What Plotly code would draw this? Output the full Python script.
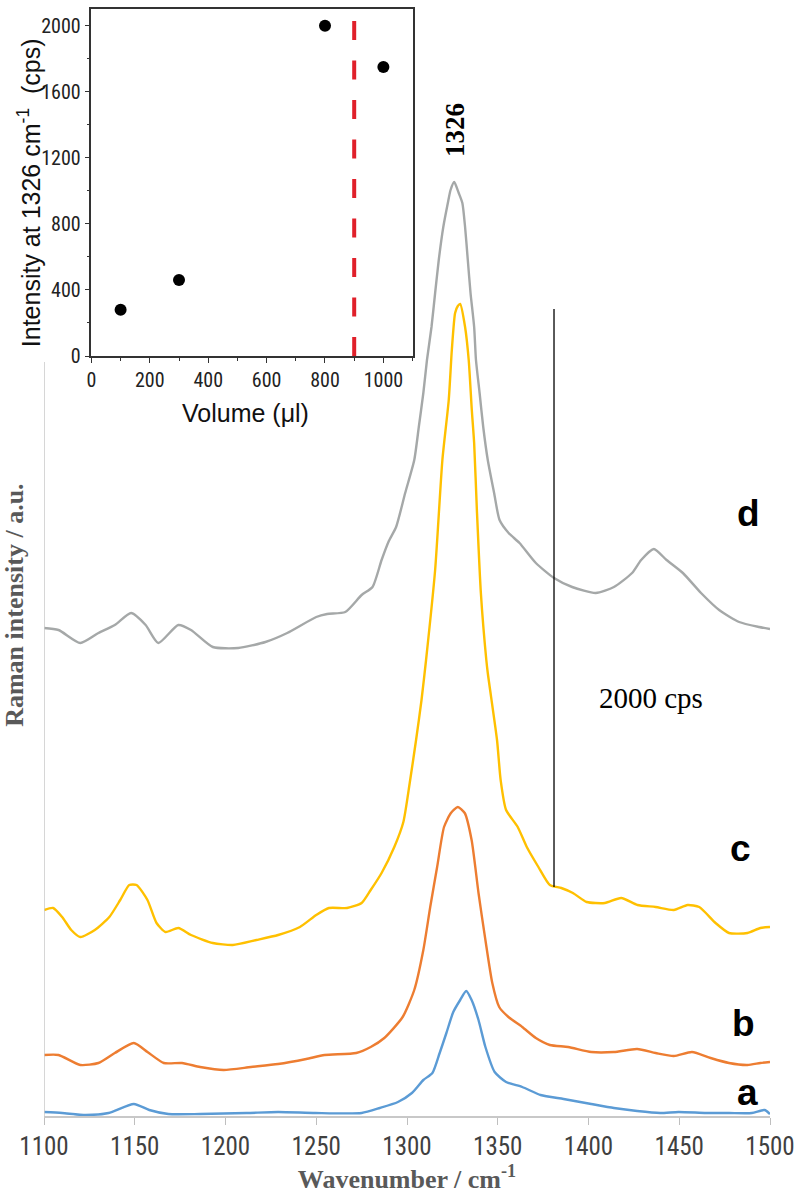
import plotly.graph_objects as go

# ---------------- data ----------------
# Main spectra (wavenumber / cm-1 vs. stacked Raman intensity, a.u.)
wn_a = [1100, 1110, 1123, 1135.6, 1149.5, 1158, 1168.5, 1186, 1211.6, 1229,
        1249.5, 1275, 1285, 1295, 1302.7, 1309, 1314, 1318, 1321.7, 1325.5,
        1329.3, 1332.6, 1335.6, 1339.4, 1343.2, 1348.3, 1354.6, 1363.5, 1373.6, 1386.3,
        1401.5, 1414, 1426.8, 1439.5, 1449.6, 1464.8, 1477.4, 1490, 1497, 1500]
int_a = [4, 3, 1, 3, 12, 6, 2, 2, 3, 4,
         3, 3, 8, 14, 23, 36, 43, 63, 83, 104,
         116, 125, 116, 96, 69, 44, 34, 29, 21, 17,
         12, 8, 5, 3, 4, 3, 3, 3, 6, 2]

wn_b = [1100, 1108, 1120, 1130, 1139, 1149.5, 1157, 1166, 1176, 1186,
        1199, 1214, 1229, 1244.5, 1254.6, 1272, 1280, 1287.5, 1297.6, 1304,
        1309, 1312.8, 1316.6, 1320.4, 1324.2, 1328, 1331.8, 1335.6, 1339.4, 1343.2,
        1347, 1350.8, 1355.9, 1363.5, 1371, 1378.7, 1388.8, 1401.5, 1414, 1426.8,
        1437, 1447, 1457, 1467.3, 1477.4, 1487.6, 1494.7, 1500]
int_b = [61, 61, 51, 53, 63, 73, 64, 53, 53, 49,
         46, 49, 52, 57, 61, 63, 69, 78, 99, 126,
         166, 209, 249, 289, 303, 309, 303, 276, 223, 176,
         133, 109, 99, 89, 78, 71, 69, 64, 64, 67,
         63, 60, 64, 58, 53, 51, 53, 54]

wn_c = [1100, 1105, 1110, 1115, 1120, 1128, 1136, 1142, 1147, 1151,
        1157, 1162, 1167, 1174, 1181, 1193, 1204, 1217, 1229, 1241,
        1250, 1257, 1267, 1275, 1280, 1286, 1293, 1298, 1301.5, 1305,
        1308, 1310.5, 1315.5, 1319.5, 1323, 1324.7, 1326.5, 1328, 1329.3, 1332,
        1334, 1335.7, 1337, 1338.5, 1340.7, 1343.7, 1344.5, 1349.6, 1351.6, 1354.6,
        1361, 1366, 1372.4, 1378.7, 1385, 1391.4, 1399, 1409, 1418, 1427,
        1437, 1447, 1454.6, 1461, 1470, 1477.4, 1487.6, 1494.7, 1500]
int_c = [206, 208, 199, 186, 179, 186, 199, 216, 231, 231,
         216, 193, 184, 188, 181, 173, 171, 176, 181, 189,
         201, 208, 208, 213, 226, 243, 269, 294, 333, 376,
         416, 456, 546, 656, 716, 766, 803, 810, 812, 789,
         756, 706, 673, 606, 523, 456, 443, 376, 336, 306,
         289, 269, 249, 231, 228, 223, 214, 213, 218, 211,
         209, 206, 211, 209, 193, 183, 183, 188, 189]

wn_d = [1100, 1108, 1120, 1130, 1139, 1148, 1156, 1163, 1174, 1181,
        1193, 1207, 1222, 1234, 1250, 1256, 1266, 1275, 1281, 1286,
        1290, 1294, 1299, 1304, 1306.5, 1309, 1311, 1313.5, 1315.5, 1317.5,
        1320, 1322.5, 1324, 1326, 1328.5, 1330.5, 1332, 1333.5, 1335, 1337,
        1338, 1340, 1342, 1344.5, 1348, 1351, 1356, 1362, 1371, 1381,
        1391, 1404, 1414, 1424, 1429, 1436, 1443, 1452, 1462, 1472,
        1483, 1494, 1500]
int_d = [488, 486, 473, 483, 491, 503, 491, 473, 491, 486,
         469, 468, 474, 483, 499, 502, 504, 521, 529, 556,
         575, 589, 623, 656, 689, 723, 756, 789, 823, 856,
         889, 913, 926, 934, 923, 913, 889, 856, 823, 789,
         756, 723, 689, 656, 623, 596, 583, 573, 553, 538,
         529, 523, 529, 543, 556, 567, 556, 543, 523, 506,
         494, 489, 487]

series_names = ["a", "b", "c", "d"]
series_colors = ["#5B9BD5", "#ED7D31", "#FFC000", "#A5A8A8"]

x_ticks = [1100, 1150, 1200, 1250, 1300, 1350, 1400, 1450, 1500]

# 2000 cps scale bar (drawn on spectrum c)
bar_x = 1381
bar_y = [229, 807]

# Inset: intensity at 1326 cm-1 vs volume
inset_volume = [100, 300, 800, 1000]
inset_intensity = [280, 460, 2000, 1750]
inset_threshold = 900
inset_xticks = [0, 200, 400, 600, 800, 1000]
inset_yticks = [0, 400, 800, 1200, 1600, 2000]

# ---------------- figure ----------------
NARROW = "Liberation Sans Narrow, Arial Narrow, Roboto Condensed, sans-serif"
SERIF = "Liberation Serif, Times New Roman, serif"
SANS = "Liberation Sans, Arial, sans-serif"
fig = go.Figure()

for name, wn, y, col in zip(series_names,
                            [wn_a, wn_b, wn_c, wn_d],
                            [int_a, int_b, int_c, int_d],
                            series_colors):
    fig.add_trace(go.Scatter(x=wn, y=y, mode="lines", name=name,
                             line=dict(color=col, width=2.4, shape="spline",
                                       smoothing=0.6),
                             showlegend=False, xaxis="x", yaxis="y"))

fig.add_trace(go.Scatter(x=inset_volume, y=inset_intensity, mode="markers",
                         marker=dict(color="black", size=12),
                         showlegend=False, xaxis="x2", yaxis="y2"))

fig.update_layout(
    width=799, height=1197,
    margin=dict(l=44, r=29, t=0, b=81),
    paper_bgcolor="white", plot_bgcolor="white",
    xaxis=dict(range=[1100, 1500], tickvals=x_ticks,
               ticks="outside", ticklen=7, tickcolor="#bfbfbf", tickwidth=1.3,
               showline=True, linecolor="#c8c8c8", linewidth=1.5,
               showgrid=False, zeroline=False,
               tickfont=dict(family=NARROW, size=25, color="#404040"),
               title=dict(text="<b>Wavenumber / cm<sup>-1</sup></b>",
                          font=dict(family=SERIF, size=26, color="#595959"),
                          standoff=6)),
    yaxis=dict(range=[0, 1116], showticklabels=False, ticks="",
               showline=False, showgrid=False, zeroline=False),
    xaxis2=dict(domain=[0.0653, 0.5077], anchor="y2", range=[0, 1100],
                tickvals=inset_xticks, ticks="outside", ticklen=5,
                tickcolor="#333", tickwidth=1.2,
                minor=dict(dtick=100, tick0=0, ticks="outside", ticklen=3,
                           tickcolor="#333"),
                showline=True, mirror=True, linecolor="#333", linewidth=1.5,
                showgrid=False, zeroline=False,
                tickfont=dict(family=NARROW, size=20, color="#222")),
    yaxis2=dict(domain=[0.681, 0.9917], anchor="x2", range=[0, 2100],
                tickvals=inset_yticks, ticks="outside", ticklen=5,
                tickcolor="#333", tickwidth=1.2,
                minor=dict(dtick=200, tick0=0, ticks="outside", ticklen=3,
                           tickcolor="#333"),
                showline=True, mirror=True, linecolor="#333", linewidth=1.5,
                showgrid=False, zeroline=False,
                tickfont=dict(family=NARROW, size=20, color="#222")),
)

# main y-axis line (visible below the inset only)
fig.add_shape(type="line", xref="x", yref="paper", x0=1100, x1=1100,
              y0=0, y1=0.6756, line=dict(color="#c8c8c8", width=1.5))
# 2000 cps scale bar
fig.add_shape(type="line", xref="x", yref="y", x0=bar_x, x1=bar_x,
              y0=bar_y[0], y1=bar_y[1], line=dict(color="black", width=1.3))
# inset red dashed threshold line
fig.add_shape(type="line", xref="x2", yref="y2", x0=inset_threshold,
              x1=inset_threshold, y0=0, y1=2040,
              line=dict(color="#E0202A", width=4, dash="19px,20.5px"))

# axis titles placed as annotations
C = dict(xanchor="center", yanchor="middle", showarrow=False)
fig.add_annotation(x=-0.04, y=0.458, xref="paper", yref="paper",
                   text="<b>Raman intensity / a.u.</b>", textangle=-90,
                   font=dict(family=SERIF, size=26, color="#595959"), **C)
fig.add_annotation(x=-0.0205, y=0.827, xref="paper", yref="paper",
                   text="Intensity at 1326 cm<sup>-1</sup>  (cps)", textangle=-90,
                   font=dict(family=SANS, size=25, color="#111"), **C)
fig.add_annotation(x=0.278, y=0.630, xref="paper", yref="paper",
                   text="Volume (μl)",
                   font=dict(family=SANS, size=25, color="#111"), **C)

fig.add_annotation(x=1326.5, y=986, xref="x", yref="y", text="<b>1326</b>",
                   textangle=-90,
                   font=dict(family=SERIF, size=27, color="black"), **C)
fig.add_annotation(x=1434.6, y=418, xref="x", yref="y", text="2000 cps",
                   font=dict(family=SERIF, size=29, color="black"), **C)

letter_pos = {"d": (1488, 603), "c": (1483.7, 268), "b": (1485.3, 93), "a": (1487.5, 24)}
for name in series_names:
    lx, ly = letter_pos[name]
    fig.add_annotation(x=lx, y=ly, xref="x", yref="y", text="<b>%s</b>" % name,
                       font=dict(family=SANS, size=37, color="black"), **C)

fig.write_html("out.html", config={"displayModeBar": False},
               post_script="document.body.style.margin='0px';"
                           "document.body.style.padding='0px';")
